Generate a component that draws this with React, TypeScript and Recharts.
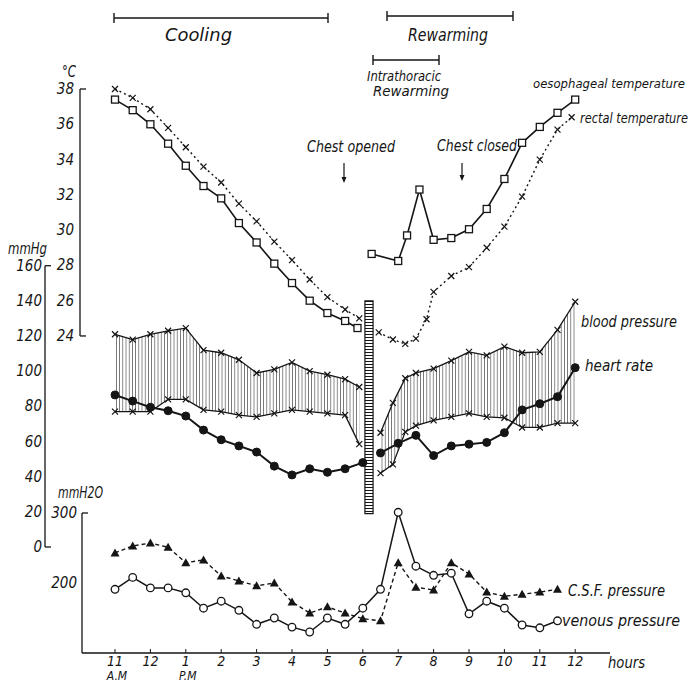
import React from "react";
import { ComposedChart, Line, Area, XAxis, YAxis, ReferenceLine, ReferenceArea } from "recharts";

// hour index: 0 = 11 A.M., 13 = 12 midnight
const HOUR_TICKS = [0, 1, 2, 3, 4, 5, 6, 7, 8, 9, 10, 11, 12, 13];
const HOUR_LABELS = ["11", "12", "1", "2", "3", "4", "5", "6", "7", "8", "9", "10", "11", "12"];
const HOUR_SUB = ["A.M", "", "P.M", "", "", "", "", "", "", "", "", "", "", ""];

const TEMP_TICKS = [24, 26, 28, 30, 32, 34, 36, 38];
const MMHG_TICKS = [0, 20, 40, 60, 80, 100, 120, 140, 160];
const MMH2O_TICKS = [200, 300];

// temperatures (°C)
const oesCoolHours = [0, 0.5, 1, 1.5, 2, 2.5, 3, 3.5, 4, 4.5, 5, 5.5, 6, 6.5, 6.85];
const oesCool = [37.4, 36.8, 36.0, 34.9, 33.65, 32.5, 31.8, 30.4, 29.3, 28.1, 27.0, 26.0, 25.3, 24.85, 24.45];
const rectalCoolHours = [0, 0.5, 1, 1.5, 2, 2.5, 3, 3.5, 4, 4.5, 5, 5.5, 6, 6.5, 6.9];
const rectalCool = [38.0, 37.5, 36.85, 35.8, 34.7, 33.6, 32.7, 31.5, 30.5, 29.35, 28.3, 27.2, 26.2, 25.5, 25.0];
const oesWarmHours = [7.25, 8, 8.25, 8.6, 9, 9.5, 10, 10.5, 11, 11.5, 12, 12.5, 13];
const oesWarm = [28.65, 28.25, 29.7, 32.3, 29.45, 29.55, 30.05, 31.2, 32.9, 34.95, 35.85, 36.65, 37.4];
const rectalWarmHours = [7.45, 7.85, 8.2, 8.5, 8.8, 9, 9.5, 10, 10.5, 11, 11.5, 12, 12.5, 12.9];
const rectalWarm = [24.2, 23.8, 23.55, 23.85, 24.95, 26.5, 27.4, 27.9, 29.0, 30.2, 31.9, 34.0, 35.7, 36.4];

// blood pressure / heart rate (mmHg, beats)
const bpBeforeHours = [0, 0.5, 1, 1.5, 2, 2.5, 3, 3.5, 4, 4.5, 5, 5.5, 6, 6.5, 6.9];
const systolicBefore = [121, 118, 121, 123, 124.5, 112, 110.5, 106.5, 99, 101, 105, 100, 98, 95.5, 91];
const diastolicBefore = [77, 77, 77, 84, 84, 78, 77, 75, 74, 76, 78, 77, 76, 75, 58.5];
const bpAfterHours = [7.5, 7.85, 8.2, 8.5, 9, 9.5, 10, 10.5, 11, 11.5, 12, 12.5, 13];
const systolicAfter = [65, 82, 96, 99, 101.5, 106, 111, 109, 114, 110.5, 111, 123.5, 139.5];
const diastolicAfter = [42, 47, 65.5, 69, 72, 74, 76, 74, 73.5, 68, 68, 70.5, 70.5];
const heartBeforeHours = [0, 0.5, 1, 1.5, 2, 2.5, 3, 3.5, 4, 4.5, 5, 5.5, 6, 6.5, 7];
const heartBefore = [86.5, 83, 79.5, 77.5, 74.5, 66.5, 61, 57.5, 54, 46, 41, 44.5, 42.5, 44.5, 48];
const heartAfterHours = [7.5, 8, 8.5, 9, 9.5, 10, 10.5, 11, 11.5, 12, 12.5, 13];
const heartAfter = [53.5, 59, 63.5, 52, 57.5, 58.5, 59.5, 65, 78, 81.5, 85.5, 102];

// C.S.F. and venous pressure (mmH2O)
const pressureHours = [0, 0.5, 1, 1.5, 2, 2.5, 3, 3.5, 4, 4.5, 5, 5.5, 6, 6.5, 7, 7.5, 8, 8.5, 9, 9.5, 10, 10.5, 11, 11.5, 12, 12.5];
const venous = [191, 208, 193, 193, 186, 164, 174, 161, 141, 150, 137, 130, 150, 141, 164, 191, 301, 224, 211, 214, 156, 174, 164, 140, 136, 146];
const csf = [243, 253, 257, 251, 229, 233, 210, 203, 196, 200, 173, 157, 166, 157, 149, 146, 229, 194, 190, 229, 213, 187, 181, 184, 187, 191];

// rewarming bar (hour index, mmHg)
const BAR = { from: 7.06, to: 7.29, low: 19, high: 140 };

// ---- layout ----
const W = 699;
const H = 687;
const X0 = 115; // px of 11 A.M.
const PX = 35.4; // px per hour
const PLOT_L = 82;
const PLOT_R = 610;
const PLOT_T = 89;
const PLOT_B = 653;
const TEMP_PX = 17.64; // px per °C, 38 at top
const MMHG_ZERO = 547;
const MMHG_PX = 1.758;
const H2O_PX = 0.7; // 100 at axis line

const xDomain = [(PLOT_L - X0) / PX, (PLOT_R - X0) / PX];
const tempDomain = [38 - (PLOT_B - PLOT_T) / TEMP_PX, 38];
const mmhgDomain = [-(PLOT_B - MMHG_ZERO) / MMHG_PX, (MMHG_ZERO - PLOT_T) / MMHG_PX];
const h2oDomain = [100, 100 + (PLOT_B - PLOT_T) / H2O_PX];
const pxToHour = (px: number) => (px - X0) / PX;

const FONT: React.CSSProperties = {
  fontFamily: "'Liberation Sans Narrow','DejaVu Sans Condensed','Roboto Condensed','Liberation Sans',sans-serif",
  fontStyle: "italic",
};
const INK = "#151515";

const pts = (hours: number[], vals: number[]) => hours.map((t, i) => ({ t, v: vals[i] }));
const band = (hours: number[], lo: number[], hi: number[]) => hours.map((t, i) => ({ t, r: [lo[i], hi[i]] }));

const square = (p: any) => (
  <rect key={p.index} x={p.cx - 3.5} y={p.cy - 3.5} width={7} height={7} fill="#fff" stroke={INK} strokeWidth={1.3} />
);
const cross = (p: any) => (
  <path key={p.index} d={`M${p.cx - 3},${p.cy - 3}L${p.cx + 3},${p.cy + 3}M${p.cx + 3},${p.cy - 3}L${p.cx - 3},${p.cy + 3}`} stroke={INK} strokeWidth={1.2} />
);
const openCircle = (p: any) => <circle key={p.index} cx={p.cx} cy={p.cy} r={3.8} fill="#fff" stroke={INK} strokeWidth={1.3} />;
const dotCircle = (p: any) => <circle key={p.index} cx={p.cx} cy={p.cy} r={4} fill={INK} stroke={INK} />;
const triangle = (p: any) => (
  <path key={p.index} d={`M${p.cx},${p.cy - 4.5}L${p.cx + 4.5},${p.cy + 3.5}L${p.cx - 4.5},${p.cy + 3.5}Z`} fill={INK} />
);

function yTick(labelRight: number, axisX: number, ends: number[]) {
  return (props: any) => {
    const { y, payload } = props;
    return (
      <g>
        <text x={labelRight} y={y} textAnchor="end" dominantBaseline="central" style={FONT} fontSize={15} fill={INK}>
          {payload.value}
        </text>
        {ends.includes(payload.value) && <line x1={axisX} x2={axisX + 6} y1={y} y2={y} stroke={INK} strokeWidth={1.3} />}
      </g>
    );
  };
}

const xTick = (props: any) => {
  const { x, y, payload } = props;
  const i = HOUR_TICKS.indexOf(payload.value);
  return (
    <g>
      <line x1={x} x2={x} y1={PLOT_B} y2={PLOT_B - 4} stroke={INK} />
      <text x={x} y={y} dy="0.75em" textAnchor="middle" style={FONT} fontSize={14} fill={INK}>
        {HOUR_LABELS[i]}
      </text>
      {HOUR_SUB[i] && (
        <text x={x + 2} y={y + 17} dy="0.7em" textAnchor="middle" style={FONT} fontSize={12} fill={INK}>
          {HOUR_SUB[i]}
        </text>
      )}
    </g>
  );
};

function Bracket({ x1, x2, y }: { x1: number; x2: number; y: number }) {
  return (
    <g stroke={INK} strokeWidth={1.4}>
      <line x1={x1} x2={x2} y1={y} y2={y} />
      <line x1={x1} x2={x1} y1={y - 5} y2={y + 5} />
      <line x1={x2} x2={x2} y1={y - 5} y2={y + 5} />
    </g>
  );
}

function Txt({ x, y, w, children, size = 16 }: { x: number; y: number; w: number; children: React.ReactNode; size?: number }) {
  return (
    <text x={x} y={y} dominantBaseline="central" style={FONT} fontSize={size} fill={INK} textLength={w} lengthAdjust="spacingAndGlyphs">
      {children}
    </text>
  );
}

function Arrow({ x, y1, y2 }: { x: number; y1: number; y2: number }) {
  return (
    <g>
      <line x1={x} x2={x} y1={y1} y2={y2 - 4} stroke={INK} strokeWidth={1.2} />
      <path d={`M${x - 2.5},${y2 - 6}L${x + 2.5},${y2 - 6}L${x},${y2}Z`} fill={INK} />
    </g>
  );
}

export default function App() {
  return (
    <div style={{ position: "absolute", left: 0, top: 0, width: W, height: H, background: "#fff" }}>
      <svg width={0} height={0} style={{ position: "absolute" }}>
        <defs>
          <pattern id="vhatch" width="3.2" height="8" patternUnits="userSpaceOnUse">
            <line x1="1.2" y1="0" x2="1.2" y2="8" stroke="#555" strokeWidth="0.8" />
          </pattern>
          <pattern id="hhatch" width="8" height="3" patternUnits="userSpaceOnUse">
            <line x1="0" y1="1.5" x2="8" y2="1.5" stroke={INK} strokeWidth="1" />
          </pattern>
        </defs>
      </svg>
      <ComposedChart width={W} height={H} margin={{ top: PLOT_T, right: W - PLOT_R, bottom: H - PLOT_B - 30, left: PLOT_L - 60 }}>
        <XAxis
          dataKey="t"
          type="number"
          domain={xDomain}
          ticks={HOUR_TICKS}
          height={30}
          tickSize={0}
          tickMargin={2}
          tick={xTick}
          axisLine={{ stroke: INK, strokeWidth: 1.4 }}
          allowDataOverflow
        />
        <YAxis yAxisId="temp" type="number" domain={tempDomain} ticks={TEMP_TICKS} width={20} axisLine={false} tickLine={false} tick={yTick(74, 80, [24, 38])} />
        <YAxis yAxisId="mmHg" type="number" domain={mmhgDomain} ticks={MMHG_TICKS} width={20} axisLine={false} tickLine={false} tick={yTick(42, 45, [0, 160])} />
        <YAxis yAxisId="h2o" type="number" domain={h2oDomain} ticks={MMH2O_TICKS} width={20} axisLine={false} tickLine={false} tick={yTick(77, 82, [300])} />

        <ReferenceLine yAxisId="temp" ifOverflow="visible" stroke={INK} strokeWidth={1.3} segment={[{ x: pxToHour(80), y: 24 }, { x: pxToHour(80), y: 38 }]} />
        <ReferenceLine yAxisId="mmHg" ifOverflow="visible" stroke={INK} strokeWidth={1.3} segment={[{ x: pxToHour(45), y: 0 }, { x: pxToHour(45), y: 160 }]} />
        <ReferenceLine yAxisId="h2o" ifOverflow="visible" stroke={INK} strokeWidth={1.3} segment={[{ x: xDomain[0], y: 100 }, { x: xDomain[0], y: 300 }]} />

        <Area yAxisId="mmHg" data={band(bpBeforeHours, diastolicBefore, systolicBefore)} dataKey="r" type="linear" stroke="none" fill="url(#vhatch)" fillOpacity={1} isAnimationActive={false} />
        <Area yAxisId="mmHg" data={band(bpAfterHours, diastolicAfter, systolicAfter)} dataKey="r" type="linear" stroke="none" fill="url(#vhatch)" fillOpacity={1} isAnimationActive={false} />

        <ReferenceArea yAxisId="mmHg" x1={BAR.from} x2={BAR.to} y1={BAR.low} y2={BAR.high} ifOverflow="visible" fill="url(#hhatch)" fillOpacity={1} stroke={INK} strokeWidth={1.2} />

        <Line yAxisId="temp" data={pts(rectalCoolHours, rectalCool)} dataKey="v" type="linear" stroke={INK} strokeWidth={1.4} strokeDasharray="2 3" dot={cross} activeDot={false} isAnimationActive={false} />
        <Line yAxisId="temp" data={pts(rectalWarmHours, rectalWarm)} dataKey="v" type="linear" stroke={INK} strokeWidth={1.4} strokeDasharray="2 3" dot={cross} activeDot={false} isAnimationActive={false} />
        <Line yAxisId="temp" data={pts(oesCoolHours, oesCool)} dataKey="v" type="linear" stroke={INK} strokeWidth={1.6} dot={square} activeDot={false} isAnimationActive={false} />
        <Line yAxisId="temp" data={pts(oesWarmHours, oesWarm)} dataKey="v" type="linear" stroke={INK} strokeWidth={1.6} dot={square} activeDot={false} isAnimationActive={false} />

        <Line yAxisId="mmHg" data={pts(bpBeforeHours, systolicBefore)} dataKey="v" type="linear" stroke={INK} strokeWidth={1.3} dot={cross} activeDot={false} isAnimationActive={false} />
        <Line yAxisId="mmHg" data={pts(bpBeforeHours, diastolicBefore)} dataKey="v" type="linear" stroke={INK} strokeWidth={1.3} dot={cross} activeDot={false} isAnimationActive={false} />
        <Line yAxisId="mmHg" data={pts(bpAfterHours, systolicAfter)} dataKey="v" type="linear" stroke={INK} strokeWidth={1.3} dot={cross} activeDot={false} isAnimationActive={false} />
        <Line yAxisId="mmHg" data={pts(bpAfterHours, diastolicAfter)} dataKey="v" type="linear" stroke={INK} strokeWidth={1.3} dot={cross} activeDot={false} isAnimationActive={false} />
        <Line yAxisId="mmHg" data={pts(heartBeforeHours, heartBefore)} dataKey="v" type="linear" stroke={INK} strokeWidth={2} dot={dotCircle} activeDot={false} isAnimationActive={false} />
        <Line yAxisId="mmHg" data={pts(heartAfterHours, heartAfter)} dataKey="v" type="linear" stroke={INK} strokeWidth={2} dot={dotCircle} activeDot={false} isAnimationActive={false} />

        <Line yAxisId="h2o" data={pts(pressureHours, csf)} dataKey="v" type="linear" stroke={INK} strokeWidth={1.4} strokeDasharray="4 3" dot={triangle} activeDot={false} isAnimationActive={false} />
        <Line yAxisId="h2o" data={pts(pressureHours, venous)} dataKey="v" type="linear" stroke={INK} strokeWidth={1.5} dot={openCircle} activeDot={false} isAnimationActive={false} />
      </ComposedChart>

      <svg width={W} height={H} style={{ position: "absolute", left: 0, top: 0, pointerEvents: "none" }}>
        <Bracket x1={114} x2={328} y={18} />
        <Txt x={165} y={34} w={67} size={18}>Cooling</Txt>
        <Bracket x1={387} x2={513} y={16} />
        <Txt x={408} y={34} w={80} size={18}>Rewarming</Txt>
        <Bracket x1={373} x2={439} y={60} />
        <Txt x={367} y={76} w={74} size={14}>Intrathoracic</Txt>
        <Txt x={373} y={91} w={76} size={14}>Rewarming</Txt>

        <Txt x={62} y={72} w={14} size={15}>°C</Txt>
        <Txt x={8} y={249} w={39} size={15}>mmHg</Txt>
        <Txt x={58} y={493} w={45} size={15}>mmH2O</Txt>

        <Txt x={307} y={146} w={88}>Chest opened</Txt>
        <Arrow x={344} y1={163} y2={183} />
        <Txt x={437} y={145} w={80}>Chest closed</Txt>
        <Arrow x={462} y1={163} y2={181} />

        <Txt x={533} y={83} w={152} size={13}>oesophageal temperature</Txt>
        <Txt x={580} y={118} w={108} size={14}>rectal temperature</Txt>
        <Txt x={581} y={321} w={96}>blood pressure</Txt>
        <Txt x={585} y={365} w={68}>heart rate</Txt>
        <Txt x={568} y={590} w={97}>C.S.F. pressure</Txt>
        <Txt x={562} y={620} w={118}>venous pressure</Txt>
        <Txt x={608} y={662} w={37}>hours</Txt>
      </svg>
    </div>
  );
}
